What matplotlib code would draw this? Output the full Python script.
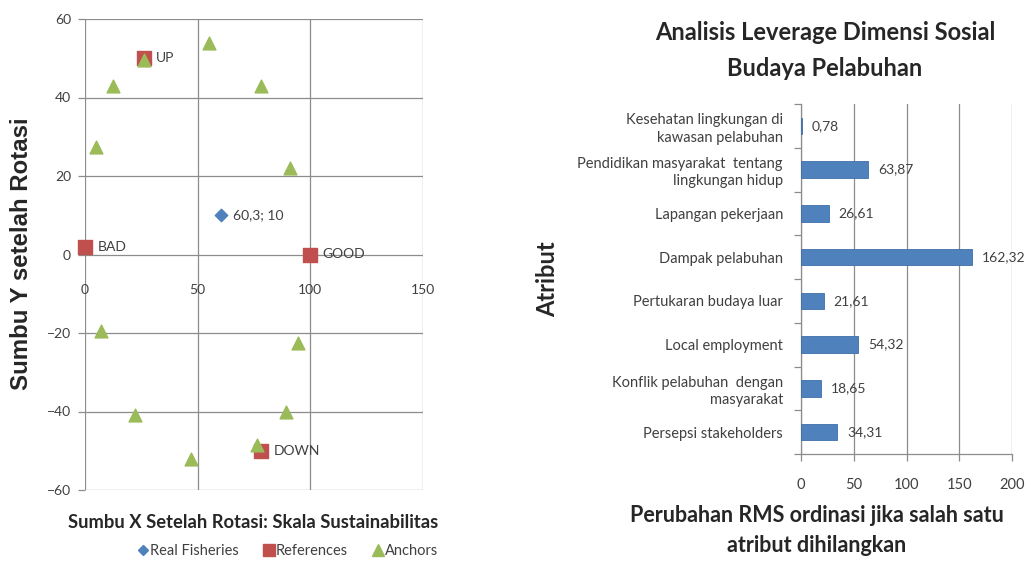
import matplotlib
matplotlib.use("Agg")
import matplotlib.pyplot as plt
from matplotlib.lines import Line2D

# ---- MDS ordination (left panel) ----
real_x = [60.3]
real_y = [10]
real_label = "60,3; 10"

ref_names = ["UP", "BAD", "GOOD", "DOWN"]
ref_x = [26, 0, 100, 78]
ref_y = [50, 2, 0, -50]

anchor_x = [55, 12.5, 78, 5, 91, 26, 7, 94.5, 22, 89, 47, 76.5]
anchor_y = [54, 43, 43, 27.5, 22, 49.5, -19.5, -22.5, -41, -40, -52, -48.5]

x_ticks = [0, 50, 100, 150]
y_ticks = [-60, -40, -20, 0, 20, 40, 60]

# ---- Leverage analysis (right panel) ----
attributes = [
    "Kesehatan lingkungan di\nkawasan pelabuhan",
    "Pendidikan masyarakat  tentang\nlingkungan hidup",
    "Lapangan pekerjaan",
    "Dampak pelabuhan",
    "Pertukaran budaya luar",
    "Local employment",
    "Konflik pelabuhan  dengan\nmasyarakat",
    "Persepsi stakeholders",
]
rms_change = [0.78, 63.87, 26.61, 162.32, 21.61, 54.32, 18.65, 34.31]
bar_ticks = [0, 50, 100, 150, 200]

BLUE = "#4F81BD"
RED = "#C0504D"
GREEN = "#9BBB59"
GRID = "#8C8C8C"
TXT = "#404040"
DARK = "#262626"
FONT = "Lato"

plt.rcParams["font.family"] = [FONT, "DejaVu Sans"]

W, H = 1036, 563
fig = plt.figure(figsize=(W / 100, H / 100), dpi=100)


def box(l, t, r, b):
    return [l / W, 1 - b / H, (r - l) / W, (b - t) / H]


# ================= Left panel =================
ax = fig.add_axes(box(85, 19, 423, 490))
ax.set_xlim(0, 150)
ax.set_ylim(-60, 60)
for s in ax.spines.values():
    s.set_visible(False)
ax.set_xticks(x_ticks)
ax.set_yticks(y_ticks)
ax.grid(True, color=GRID, linewidth=0.9)
ax.set_axisbelow(True)
ax.tick_params(axis="x", length=0, pad=21, labelsize=10, labelcolor=TXT)
ax.tick_params(axis="y", length=5, width=0.9, color=GRID, pad=5,
               labelsize=10, labelcolor=TXT)
ax.spines["bottom"].set_position(("data", 0))

ax.scatter(real_x, real_y, marker="D", s=40, color=BLUE, zorder=3,
           label="Real Fisheries", clip_on=False)
ax.scatter(ref_x, ref_y, marker="s", s=110, color=RED, zorder=3,
           label="References", clip_on=False)
ax.scatter(anchor_x, anchor_y, marker="^", s=85, color=GREEN, zorder=4,
           label="Anchors", clip_on=False)

ax.annotate(real_label, (real_x[0], real_y[0]), xytext=(9, 0),
            textcoords="offset points", va="center", ha="left",
            fontsize=10, color=TXT)
for name, x, y in zip(ref_names, ref_x, ref_y):
    ax.annotate(name, (x, y), xytext=(9, 0), textcoords="offset points",
                va="center", ha="left", fontsize=10, color=TXT)

fig.text(22 / W, 1 - 254 / H, "Sumbu Y setelah Rotasi", rotation=90,
         ha="center", va="center", fontsize=17.3, fontweight="bold",
         family="Liberation Sans", color=DARK)
fig.text(253 / W, 1 - 522 / H,
         "Sumbu X Setelah Rotasi: Skala Sustainabilitas",
         ha="center", va="center", fontsize=13.2, fontweight="bold",
         color=DARK)

handles = [
    Line2D([], [], marker="D", ls="none", color=BLUE, markersize=5.5),
    Line2D([], [], marker="s", ls="none", color=RED, markersize=8),
    Line2D([], [], marker="^", ls="none", color=GREEN, markersize=8),
]
fig.legend(handles, ["Real Fisheries", "References", "Anchors"],
           loc="center", bbox_to_anchor=(288 / W, 1 - 551 / H), ncol=3,
           frameon=False, fontsize=10.5, handlelength=0.7,
           handletextpad=0.15, columnspacing=1.7, labelcolor=TXT,
           borderaxespad=0, borderpad=0)

# ================= Right panel =================
bx = fig.add_axes(box(801, 104, 1012, 454))
ypos = list(range(len(attributes)))
bx.barh(ypos, rms_change, height=0.38, color=BLUE,
        edgecolor="#3F6FA8", linewidth=0.6, zorder=3)
bx.set_ylim(len(attributes) - 0.5, -0.5)
bx.set_xlim(0, 200)
bx.set_xticks(bar_ticks)
bx.set_yticks(ypos)
bx.set_yticklabels(attributes, fontsize=10.5, color=TXT, linespacing=1.3)
bx.set_yticks([i - 0.5 for i in range(len(attributes) + 1)], minor=True)
bx.tick_params(axis="y", which="major", length=0, pad=13)
bx.tick_params(axis="y", which="minor", length=5, width=0.9, color=GRID)
bx.tick_params(axis="x", length=5, width=0.9, color=GRID, pad=12,
               labelsize=10.5, labelcolor=TXT)
bx.xaxis.grid(True, color=GRID, linewidth=0.9)
bx.set_axisbelow(True)
for side in ("top", "right"):
    bx.spines[side].set_visible(False)
for side in ("left", "bottom"):
    bx.spines[side].set_color(GRID)
    bx.spines[side].set_linewidth(0.9)

for y, v in zip(ypos, rms_change):
    bx.annotate(f"{v:.2f}".replace(".", ","), (v, y), xytext=(7, 0),
                textcoords="offset points", va="center", ha="left",
                fontsize=10, color=TXT)

fig.text(825 / W, 1 - 33 / H, "Analisis Leverage Dimensi Sosial",
         ha="center", va="center", fontsize=17, fontweight="bold",
         color=DARK)
fig.text(825 / W, 1 - 68 / H, "Budaya Pelabuhan",
         ha="center", va="center", fontsize=17, fontweight="bold",
         color=DARK)
fig.text(548 / W, 1 - 279 / H, "Atribut", rotation=90,
         ha="center", va="center", fontsize=17, fontweight="bold",
         color=DARK)
fig.text(817 / W, 1 - 515 / H, "Perubahan RMS ordinasi jika salah satu",
         ha="center", va="center", fontsize=15.5, fontweight="bold",
         color=DARK)
fig.text(817 / W, 1 - 545 / H, "atribut dihilangkan",
         ha="center", va="center", fontsize=15.5, fontweight="bold",
         color=DARK)

fig.savefig("out.png", dpi=100, facecolor="white")
